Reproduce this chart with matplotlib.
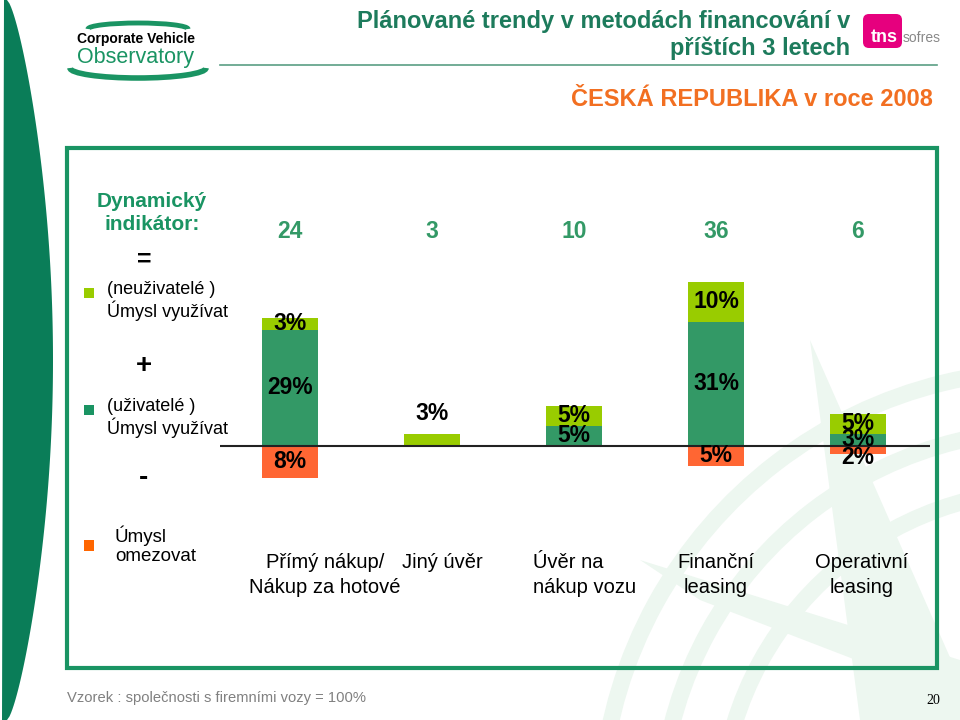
import numpy as np
import matplotlib
matplotlib.use("Agg")
import matplotlib.pyplot as plt
from matplotlib.patches import Rectangle, Arc, FancyBboxPatch, Polygon

# === Data ===
categories = ["Přímý nákup/\nNákup za hotové", "Jiný úvěr", "Úvěr na\nnákup vozu",
              "Finanční\nleasing", "Operativní\nleasing"]
nonusers_use = [3, 3, 5, 10, 5]     # (neuživatelé) Úmysl využívat
users_use = [29, 0, 5, 31, 3]       # (uživatelé) Úmysl využívat
reduce_use = [8, 0, 0, 5, 2]        # Úmysl omezovat
indicator = [a + b - c for a, b, c in zip(nonusers_use, users_use, reduce_use)]

# === Styles ===
LIGHT = "#99cc00"
DARK = "#339966"
ORANGE = "#ff6633"
BOX = "#1a9463"
TITLE = "#1d7b5c"
SUB = "#f26f21"
FONT = ["Liberation Sans", "DejaVu Sans"]
plt.rcParams["font.family"] = FONT

fig = plt.figure(figsize=(9.6, 7.2), dpi=100)

# background layer in pixel coordinates (y down)
bg = fig.add_axes([0, 0, 1, 1])
bg.set_xlim(0, 960)
bg.set_ylim(720, 0)
bg.axis("off")

# left swoosh
yy = np.linspace(0, 720, 200)
t = yy / 720
right = 7 + 46 * np.sin(np.pi * t) ** 0.7
left = 4 - 2 * t
pts = np.vstack([np.column_stack([left, yy]), np.column_stack([right[::-1], yy[::-1]])])
bg.add_patch(Polygon(pts, closed=True, color="#0a7d58", lw=0))

# faint watermark (compass) bottom right
wm = "#edf7f0"
for r in (330, 390, 450):
    bg.add_patch(Arc((1050, 820), 2 * r, 2 * r, theta1=185, theta2=280, color=wm, lw=12))
bg.add_patch(Polygon([(810, 340), (860, 720), (960, 720), (960, 680)], closed=True, color=wm, lw=0))
bg.add_patch(Polygon([(640, 560), (960, 660), (960, 700), (700, 600)], closed=True, color=wm, lw=0))

# logo Corporate Vehicle Observatory (y axis inverted: 180-360 is the upper half)
bg.add_patch(Arc((138, 29), 100, 12, theta1=180, theta2=360, color=BOX, lw=3.5))
bg.add_patch(Arc((138, 68), 136, 20, theta1=0, theta2=180, color=BOX, lw=4))
bg.text(136, 39, "Corporate Vehicle", fontsize=10, fontweight="bold", ha="center", va="center", color="black")
bg.text(136, 58, "Observatory", fontsize=15.5, ha="center", va="center", color=BOX)

# tns sofres logo
bg.add_patch(FancyBboxPatch((863, 14), 39, 34, boxstyle="round,pad=0,rounding_size=6",
                            color="#e6007e", lw=0))
bg.text(884, 37, "tns", fontsize=13, fontweight="bold", color="white", ha="center", va="center")
bg.text(903, 38, "sofres", fontsize=10, color="#888888", ha="left", va="center")

# titles
bg.text(850, 35, "Plánované trendy v metodách financování v\npříštích 3 letech", fontsize=17,
        fontweight="bold", color=TITLE, ha="right", va="center", linespacing=1.2)
bg.plot([220, 937], [65, 65], color="#5a9e84", lw=1.2)
bg.text(933, 100, "ČESKÁ REPUBLIKA v roce 2008", fontsize=17, fontweight="bold",
        color=SUB, ha="right", va="center")

# green box
bg.add_patch(Rectangle((67, 148), 870, 520, fill=False, edgecolor=BOX, lw=3))

# legend texts
bg.text(152, 213, "Dynamický\nindikátor:", fontsize=15, fontweight="bold", color=BOX,
        ha="center", va="center", linespacing=1.3)
bg.text(144, 260, "=", fontsize=18, fontweight="bold", ha="center", va="center")
bg.add_patch(Rectangle((84, 288), 10, 10, color=LIGHT, lw=0))
bg.text(107, 301, "(neuživatelé )\nÚmysl využívat", fontsize=13, ha="left", va="center", linespacing=1.1)
bg.text(144, 366, "+", fontsize=20, fontweight="bold", ha="center", va="center")
bg.add_patch(Rectangle((84, 405), 10, 10, color=BOX, lw=0))
bg.text(107, 418, "(uživatelé )\nÚmysl využívat", fontsize=13, ha="left", va="center", linespacing=1.1)
bg.text(144, 478, "-", fontsize=20, fontweight="bold", ha="center", va="center")
bg.add_patch(Rectangle((84, 540), 10, 11, color="#ff6600", lw=0))
bg.text(115, 545, "Úmysl\nomezovat", fontsize=13.5, ha="left", va="center", linespacing=1.15)

# footer
bg.text(67, 698, "Vzorek : společnosti s firemními vozy = 100%", fontsize=10.6, color="#808080",
        ha="left", va="center")
bg.text(940, 700, "20", fontsize=10, family=["Liberation Serif", "DejaVu Serif"], ha="right", va="center")

# === Chart ===
PX_X0, PX_STEP = 290, 142     # bar centers in pixels
PX_ZERO, PX_PER = 446, 4.0    # zero line & pixels per percent
L, R, T, B = 220, 930, 150, 660
ax = fig.add_axes([L / 960, 1 - B / 720, (R - L) / 960, (B - T) / 720])
ax.patch.set_alpha(0)
ax.set_xlim((L - PX_X0) / PX_STEP, (R - PX_X0) / PX_STEP)
ax.set_ylim(-(B - PX_ZERO) / PX_PER, (PX_ZERO - T) / PX_PER)
ax.axis("off")

x = np.arange(len(categories))
w = 0.40
ax.bar(x, users_use, w, color=DARK, lw=0)
ax.bar(x, nonusers_use, w, bottom=users_use, color=LIGHT, lw=0)
ax.bar(x, [-v for v in reduce_use], w, color=ORANGE, lw=0)
ax.axhline(0, color="#222222", lw=1.5)

lab = dict(fontsize=16.5, fontweight="bold", ha="center", va="center", color="black")
for i in x:
    top = users_use[i] + nonusers_use[i]
    if users_use[i] == 0 and reduce_use[i] == 0:
        ax.text(i, top + 5, f"{nonusers_use[i]}%", **lab)
    else:
        ax.text(i, users_use[i] + nonusers_use[i] / 2, f"{nonusers_use[i]}%", **lab)
        if users_use[i]:
            ax.text(i, users_use[i] / 2, f"{users_use[i]}%", **lab)
    if reduce_use[i]:
        ax.text(i, -reduce_use[i] / 2 - (2 if reduce_use[i] < 3 else 0), f"{reduce_use[i]}%", **lab)
    ax.text(i, (PX_ZERO - 231) / PX_PER, str(indicator[i]), fontsize=16.5, fontweight="bold",
            color=DARK, ha="center", va="center")

# category labels (pixel nudges relative to bar centers)
nudge = [35, 10, -41, 0, 4]
align = ["center", "center", "left", "center", "center"]
for i, c in enumerate(categories):
    ax.text(i + nudge[i] / PX_STEP, -(553 - PX_ZERO) / PX_PER, c, fontsize=14.5,
            ha=align[i], va="top", multialignment=align[i], linespacing=1.4)

fig.savefig("out.png", dpi=100)
